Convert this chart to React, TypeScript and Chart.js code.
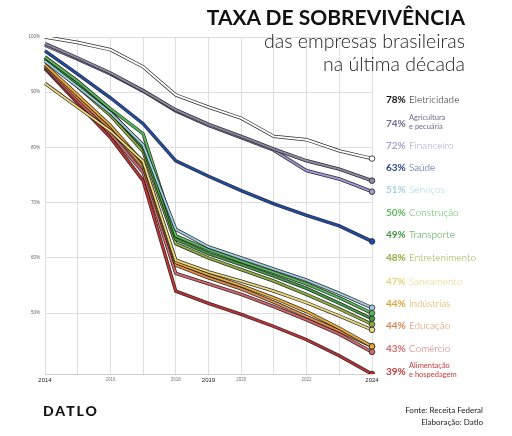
import React, { useEffect, useRef } from "react";
import { Chart, registerables } from "chart.js";

Chart.register(...registerables);

// Years on the x axis
const years = ["2014", "2015", "2016", "2017", "2018", "2019", "2020", "2021", "2022", "2023", "2024"];
const labelledYears = ["2014", "2016", "2018", "2019", "2020", "2022", "2024"];
const majorYears = ["2014", "2019", "2024"];
const yTicks = [50, 60, 70, 80, 90, 100];

// Survival rate (%) per sector, 2014 → 2024
const eletricidade = [100, 99, 97.7, 94.6, 89.5, 87.3, 85.3, 82, 81.4, 79.4, 78];
const agricultura = [98.8, 96.2, 93.5, 90.3, 86.8, 84.2, 82, 79.7, 77.6, 76.1, 74];
const financeiro = [98.5, 96, 93.3, 90.2, 86.6, 84, 81.8, 79.5, 75.8, 74.3, 72];
const saude = [97.5, 93.3, 89, 84.3, 77.6, 74.8, 72.2, 69.8, 67.7, 65.8, 63];
const servicos = [95.6, 91, 86.3, 80.5, 65.2, 62, 60, 58, 56, 53.6, 51];
const construcao = [96.4, 92, 87, 82.5, 64, 61.5, 59.4, 57.4, 55.3, 52.8, 50];
const transporte = [96, 91.4, 86.5, 80, 63.4, 60.8, 58.8, 56.7, 54.5, 51.8, 49];
const entretenimento = [96.2, 91, 85.8, 79.3, 62.6, 60, 57.9, 55.8, 53.4, 50.8, 48];
const saneamento = [91.6, 87.3, 83, 77.5, 59.6, 57.5, 55.8, 54, 51.9, 49.5, 47];
const industrias = [95, 89.5, 84, 77.2, 59.2, 57, 55, 52.8, 50.3, 47.3, 44];
const educacao = [94.8, 89, 83.4, 76.5, 58.7, 56.4, 54.4, 52, 49.4, 46.8, 44];
const comercio = [94.5, 88.5, 82.5, 75.5, 57.2, 55.3, 53.4, 51.2, 48.8, 46.2, 43];
const alimentacao = [94.3, 88, 81.8, 74, 54, 51.8, 49.8, 47.6, 45.2, 42.3, 39];

const sectorNames = [
  ["Eletricidade"],
  ["Agricultura", "e pecuária"],
  ["Financeiro"],
  ["Saúde"],
  ["Serviços"],
  ["Construção"],
  ["Transporte"],
  ["Entretenimento"],
  ["Saneamento"],
  ["Indústrias"],
  ["Educação"],
  ["Comércio"],
  ["Alimentação", "e hospedagem"],
];
const sectorValues = [
  eletricidade, agricultura, financeiro, saude, servicos, construcao, transporte,
  entretenimento, saneamento, industrias, educacao, comercio, alimentacao,
];
const lineColors = [
  "#ffffff", "#8c8aa6", "#a29ad8", "#1d4db0", "#9ccde0", "#56b957", "#3a9c3e",
  "#8fb03c", "#ecd97a", "#e9ab3a", "#e38a45", "#d8646c", "#c62f30",
];
const textColors = [
  "#111111", "#6f6d8e", "#a7a1d4", "#2a4a8e", "#a3d2df", "#58bb58", "#3e9a3e",
  "#8fae3e", "#e9d47a", "#e2a43a", "#db8a52", "#d86a6e", "#c93a3a",
];
const legendCenters = [99, 122.5, 144.5, 167, 189, 211.5, 234, 257, 280.5, 302.5, 325, 348, 370.5];

const FONT = "Lato, 'Open Sans', sans-serif";
const CASING = "rgba(25,25,25,0.9)";

export default function App() {
  const canvasRef = useRef<HTMLCanvasElement>(null);

  useEffect(() => {
    const canvas = canvasRef.current;
    if (!canvas) return;
    const last = years.length - 1;
    const datasets: any[] = [];
    sectorValues.forEach((values, i) => {
      datasets.push({
        label: sectorNames[i].join(" "),
        data: values,
        borderColor: lineColors[i],
        borderWidth: 1.9,
        tension: 0,
        fill: false,
        order: 2 * i,
        pointRadius: (ctx: any) => (ctx.dataIndex === last ? 2.8 : 0),
        pointBackgroundColor: lineColors[i],
        pointBorderColor: "#333",
        pointBorderWidth: 0.9,
      });
      datasets.push({
        label: sectorNames[i].join(" ") + " (contorno)",
        data: values,
        borderColor: CASING,
        borderWidth: 3.4,
        tension: 0,
        fill: false,
        order: 2 * i + 1,
        pointRadius: 0,
      });
    });

    const chart = new Chart(canvas, {
      type: "line",
      data: { labels: years, datasets },
      options: {
        animation: false,
        responsive: false,
        maintainAspectRatio: false,
        layout: { padding: { left: 0, top: 37, right: 140, bottom: 0 } },
        plugins: { legend: { display: false }, tooltip: { enabled: false } },
        scales: {
          x: {
            type: "category",
            offset: false,
            grid: { color: "#dedede", lineWidth: 1, drawTicks: false },
            border: { color: "#cfcfcf" },
            ticks: {
              autoSkip: false,
              maxRotation: 0,
              padding: 3,
              callback: (_v: any, i: number) => (labelledYears.includes(years[i]) ? years[i] : ""),
              color: (ctx: any) => (majorYears.includes(years[ctx.index]) ? "#222" : "#777"),
              font: (ctx: any) => ({
                family: "'Liberation Sans', Arial, sans-serif",
                size: majorYears.includes(years[ctx.index]) ? 6 : 4.5,
              }),
            },
            afterFit: (s: any) => {
              s.height = 436 - 374;
            },
          },
          y: {
            min: 39,
            max: 100,
            afterBuildTicks: (s: any) => {
              s.ticks = yTicks.map((v) => ({ value: v }));
            },
            grid: { color: "#dedede", lineWidth: 1, drawTicks: false },
            border: { display: false },
            ticks: {
              padding: 5,
              color: "#666",
              font: { family: "'Liberation Sans', Arial, sans-serif", size: 4.5 },
              callback: (v: any) => v + "%",
            },
            afterFit: (s: any) => {
              s.width = 45;
            },
          },
        },
      },
    });
    return () => chart.destroy();
  }, []);

  return (
    <div
      style={{
        position: "absolute",
        left: 0,
        top: 0,
        width: 512,
        height: 436,
        background: "#ffffff",
        fontFamily: FONT,
        overflow: "hidden",
      }}
    >
      <canvas
        ref={canvasRef}
        width={512}
        height={436}
        style={{ position: "absolute", left: 0, top: 0, width: 512, height: 436 }}
      />

      <div
        style={{
          position: "absolute",
          right: 47,
          top: 6,
          fontSize: 21,
          lineHeight: "21px",
          fontWeight: 700,
          color: "#111",
          whiteSpace: "nowrap",
        }}
      >
        TAXA DE SOBREVIVÊNCIA
      </div>
      <div
        style={{
          position: "absolute",
          right: 47,
          top: 31,
          fontSize: 19.5,
          lineHeight: "20px",
          fontWeight: 300,
          color: "#222",
          whiteSpace: "nowrap",
          textAlign: "right",
        }}
      >
        das empresas brasileiras
      </div>
      <div
        style={{
          position: "absolute",
          right: 47,
          top: 54,
          fontSize: 19.5,
          lineHeight: "20px",
          fontWeight: 300,
          color: "#222",
          whiteSpace: "nowrap",
          textAlign: "right",
        }}
      >
        na última década
      </div>

      {sectorValues.map((values, i) => {
        const pct = Math.round(values[values.length - 1]) + "%";
        const name = sectorNames[i];
        return (
          <div
            key={i}
            style={{
              position: "absolute",
              left: 386,
              top: legendCenters[i] - 8,
              height: 16,
              display: "flex",
              alignItems: "center",
              whiteSpace: "nowrap",
            }}
          >
            <span style={{ fontSize: 10, fontWeight: 700, color: textColors[i], width: 23 }}>{pct}</span>
            {name.length === 1 ? (
              <span style={{ fontSize: 10, fontWeight: 300, color: textColors[i] }}>{name[0]}</span>
            ) : (
              <span style={{ fontSize: 7.5, lineHeight: "8.5px", fontWeight: 400, color: textColors[i] }}>
                {name[0]}
                <br />
                {name[1]}
              </span>
            )}
          </div>
        );
      })}

      <div
        style={{
          position: "absolute",
          left: 43,
          top: 403,
          fontSize: 14,
          lineHeight: "16px",
          fontWeight: 900,
          letterSpacing: 2,
          color: "#111",
        }}
      >
        DATLO
      </div>
      <div
        style={{
          position: "absolute",
          right: 29,
          top: 404,
          fontSize: 8,
          lineHeight: "12px",
          fontWeight: 400,
          color: "#222",
          textAlign: "right",
          whiteSpace: "nowrap",
        }}
      >
        Fonte: Receita Federal
        <br />
        Elaboração: Datlo
      </div>
    </div>
  );
}
